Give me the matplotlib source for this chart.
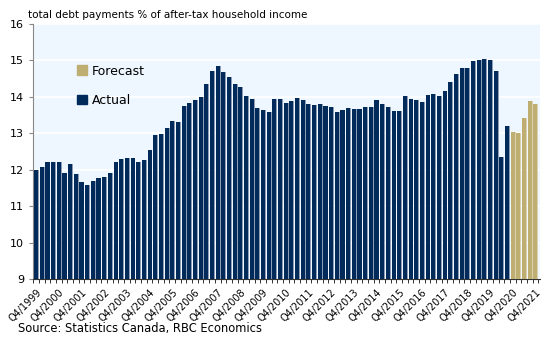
import numpy as np
import matplotlib
matplotlib.use("Agg")
import matplotlib.pyplot as plt
from matplotlib.patches import Patch

# quarterly debt service ratio, Q4/1999 .. Q4/2021
actual = [
    12.0, 12.08, 12.21, 12.2, 12.2, 11.92, 12.15, 11.87, 11.66, 11.58,
    11.68, 11.76, 11.8, 11.92, 12.2, 12.3, 12.33, 12.33, 12.21, 12.26,
    12.53, 12.95, 12.99, 13.15, 13.34, 13.3, 13.75, 13.82, 13.9, 14.0,
    14.36, 14.7, 14.84, 14.69, 14.55, 14.36, 14.27, 14.03, 13.93, 13.69,
    13.63, 13.57, 13.93, 13.94, 13.84, 13.88, 13.97, 13.9, 13.79, 13.77,
    13.79, 13.75, 13.71, 13.58, 13.64, 13.68, 13.66, 13.66, 13.73, 13.73,
    13.9, 13.81, 13.73, 13.62, 13.6, 14.03, 13.95, 13.9, 13.87, 14.06,
    14.09, 14.03, 14.16, 14.42, 14.62, 14.78, 14.8, 14.97, 15.0, 15.04,
    15.01, 14.72, 12.34, 13.2,
]
forecast = [13.04, 13.02, 13.41, 13.88, 13.81]

start_year = 1999
n = len(actual) + len(forecast)
quarters = [f"Q{(3 + i) % 4 + 1}/{start_year + (3 + i) // 4}" for i in range(n)]

navy = "#002A5A"
gold = "#BFAE72"

fig = plt.figure(figsize=(5.41, 3.47), dpi=100)
ax = fig.add_axes([0.061, 0.196, 0.937, 0.735])
ax.set_facecolor("#EEF6FF")

xa = np.arange(len(actual))
xf = np.arange(len(actual), n)
# light shadow to the right of each bar
ax.bar(xa + 0.12, actual, width=0.78, color="#8C9DB5", zorder=2)
ax.bar(xf + 0.12, forecast, width=0.78, color="#DCD3AE", zorder=2)
ax.bar(xa, actual, width=0.72, color=navy, zorder=3)
ax.bar(xf, forecast, width=0.72, color=gold, zorder=3)

ax.set_ylim(9, 16)
ax.set_xlim(-0.55, n - 0.2)
ax.set_yticks(range(9, 17))
ax.yaxis.grid(True, color="white", linewidth=1.2, zorder=1)
ax.set_axisbelow(True)

lab_idx = [i for i, q in enumerate(quarters) if q.startswith("Q4")]
ax.set_xticks(lab_idx)
ax.set_xticklabels([quarters[i] for i in lab_idx], rotation=45, ha="right",
                   rotation_mode="anchor", fontsize=7)
ax.set_xticks(np.arange(-0.5, n, 1.0), minor=True)
ax.tick_params(axis="x", which="major", length=0, pad=6)
ax.tick_params(axis="x", which="minor", length=3, width=0.7, color="#333333")
ax.tick_params(axis="y", labelsize=8, length=3, color="#888888")

for s in ["top", "right"]:
    ax.spines[s].set_visible(False)
ax.spines["left"].set_color("#888888")
ax.spines["bottom"].set_color("#333333")

handles = [Patch(color=gold, label="Forecast"), Patch(color=navy, label="Actual")]
ax.legend(handles=handles, loc="upper left", bbox_to_anchor=(0.065, 0.885),
          frameon=False, fontsize=9, labelspacing=1.3,
          handlelength=0.8, handleheight=0.8, handletextpad=0.4)

fig.text(0.052, 0.958, "total debt payments % of after-tax household income",
         fontsize=7.5, va="center")
fig.text(0.034, 0.052, "Source: Statistics Canada, RBC Economics",
         fontsize=8.3, va="center")

plt.savefig("out.png", dpi=100)
plt.close()
